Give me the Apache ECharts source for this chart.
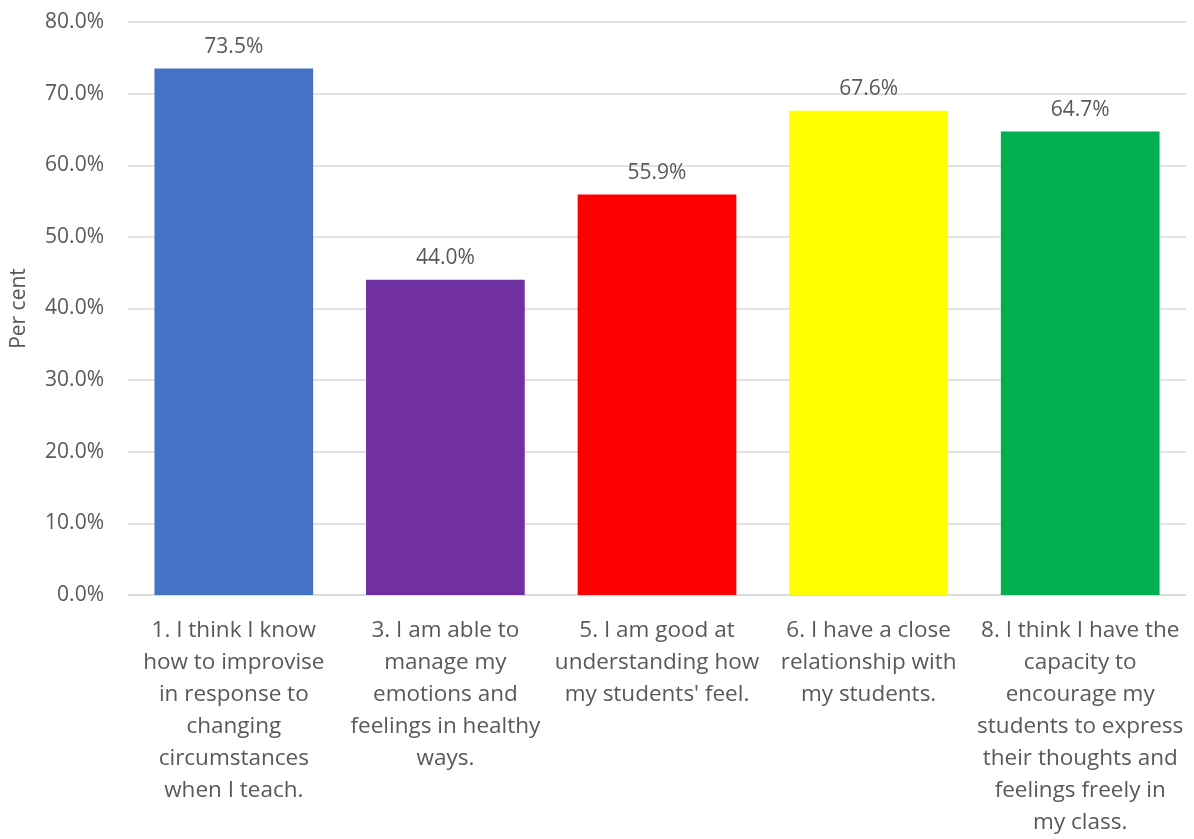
<!DOCTYPE html>
<html>
<head>
<meta charset="utf-8">
<script src="https://cdn.jsdelivr.net/npm/echarts@6/dist/echarts.min.js"></script>
<style>
  html, body { margin: 0; padding: 0; background: #fff; }
  #chart { width: 1194px; height: 839px; }
</style>
</head>
<body>
<div id="chart"></div>
<script>
// Survey items (wrapped as printed under each bar)
const categories = [
  "1. I think I know\nhow to improvise\nin response to\nchanging\ncircumstances\nwhen I teach.",
  "3. I am able to\nmanage my\nemotions and\nfeelings in healthy\nways.",
  "5. I am good at\nunderstanding how\nmy students' feel.",
  "6. I have a close\nrelationship with\nmy students.",
  "8. I think I have the\ncapacity to\nencourage my\nstudents to express\ntheir thoughts and\nfeelings freely in\nmy class."
];
// Share of respondents agreeing, per cent
const values = [73.5, 44.0, 55.9, 67.6, 64.7];
const barColors = ["#4472C4", "#7030A0", "#FF0000", "#FFFF00", "#00B050"];

const FONT = "'Open Sans', sans-serif";
const TEXT = "#595959";

const chart = echarts.init(document.getElementById("chart"), null, { renderer: "canvas" });
chart.setOption({
  animation: false,
  grid: { left: 128, right: 8, top: 22, bottom: 242, containLabel: false },
  xAxis: {
    type: "category",
    data: categories,
    axisTick: { show: false },
    axisLine: { lineStyle: { color: "#D9D9D9", width: 1.5 } },
    axisLabel: {
      interval: 0,
      color: TEXT,
      fontFamily: FONT,
      fontSize: 22.5,
      lineHeight: 32,
      margin: 20,
      align: "center"
    }
  },
  yAxis: {
    type: "value",
    min: 0,
    max: 80,
    interval: 10,
    name: "Per cent",
    nameLocation: "middle",
    nameGap: 98,
    nameTextStyle: { color: TEXT, fontFamily: FONT, fontSize: 21 },
    axisLine: { show: false },
    axisTick: { show: false },
    splitLine: { lineStyle: { color: "#D9D9D9", width: 1.5 } },
    axisLabel: {
      color: TEXT,
      fontFamily: FONT,
      fontSize: 21,
      margin: 24,
      formatter: v => v.toFixed(1) + "%"
    }
  },
  series: [{
    type: "bar",
    data: values.map((v, i) => ({ value: v, itemStyle: { color: barColors[i] } })),
    barCategoryGap: "25%",
    label: {
      show: true,
      position: "top",
      distance: 11,
      color: TEXT,
      fontFamily: FONT,
      fontSize: 21,
      formatter: p => p.value.toFixed(1) + "%"
    }
  }]
});
</script>
</body>
</html>
